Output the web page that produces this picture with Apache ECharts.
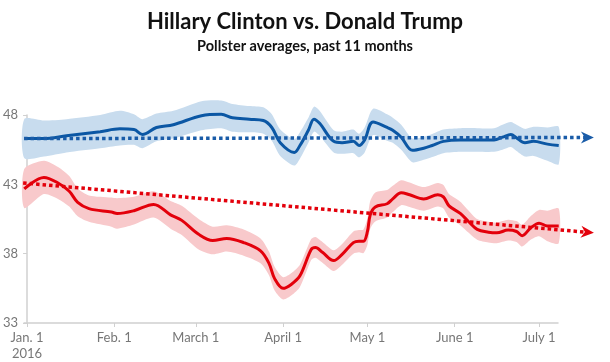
<!DOCTYPE html>
<html>
<head>
<meta charset="utf-8">
<script src="https://cdn.jsdelivr.net/npm/echarts@6/dist/echarts.min.js"></script>
<style>html,body{margin:0;padding:0;background:#fff}#c{width:610px;height:362px}</style>
</head>
<body>
<div id="c"></div>
<script>
// ---- data (days since Jan. 1, 2016) ----
var clintonDays = [-1,6,14,26,33,38,41,46,52,62,69,73,79,84,87,90,95,97,100,102,104,109,112,116,118,120,123,128,130,133,137,141,144,148,154,160,166,169,172,174,177,180,185,189];
var clintonAvg  = [46.3,46.3,46.5,46.8,47.0,46.95,46.6,47.1,47.3,47.95,48.05,47.8,47.7,47.6,47.1,46.0,45.3,45.8,46.9,47.7,47.4,46.1,46.0,46.1,45.8,46.2,47.5,47.1,46.9,46.4,45.45,45.6,45.8,46.1,46.2,46.2,46.2,46.4,46.6,46.35,46.0,46.1,45.9,45.8];
var clintonLow  = [44.9,45.0,45.3,45.6,45.8,45.85,45.6,46.1,46.3,46.9,47.05,46.8,46.75,46.65,46.15,45.05,44.35,44.85,46.0,46.8,46.5,45.3,45.2,45.25,44.95,45.3,46.55,46.15,46.0,45.5,44.6,44.77,44.97,45.25,45.35,45.35,45.35,45.5,45.7,45.4,45.0,45.05,44.7,44.45];
var clintonHigh = [47.7,47.6,47.7,48.0,48.3,48.05,47.7,48.1,48.3,49.0,49.05,48.8,48.65,48.55,48.05,46.95,46.25,46.75,47.8,48.6,48.3,46.9,46.8,46.95,46.65,47.1,48.45,48.05,47.8,47.3,46.3,46.43,46.63,46.95,47.05,47.05,47.05,47.3,47.5,47.3,47.0,47.15,47.1,47.15];

var trumpDays = [-1,6,11,15,18,22,30,32,38,45,51,55,61,66,71,77,83,86,88,91,94,97,101,102.5,105,109,112,116,118,119.6,121,122,123.8,128,130,133,136,141,146,148,150,154,157,160,164,167,171,174,176,179,182,185,189];
var trumpAvg  = [42.67,43.5,43.1,42.5,41.7,41.25,41.0,40.9,41.1,41.55,40.8,40.4,39.4,38.95,39.1,38.8,38.2,37.3,36.2,35.5,35.8,36.4,38.3,38.45,38.1,37.5,37.95,38.8,38.9,38.9,39.6,40.8,41.37,41.6,41.95,42.4,42.25,41.95,42.25,42.1,41.45,40.9,40.3,39.75,39.55,39.5,39.7,39.6,39.3,39.85,40.2,40.0,40.0];
var trumpLow  = [41.3,42.3,41.95,41.4,40.7,40.3,39.95,39.8,40.1,40.6,39.8,39.35,38.3,37.95,38.15,37.85,37.3,36.45,35.35,34.7,35.0,35.6,37.55,37.7,37.35,36.75,37.2,38.0,38.1,38.05,38.65,39.8,40.32,40.6,41.0,41.5,41.37,41.1,41.4,41.25,40.6,40.05,39.5,39.0,38.8,38.75,38.95,38.85,38.52,39.0,39.25,38.9,38.75];
var trumpHigh = [44.1,44.7,44.25,43.6,42.7,42.2,42.05,42.0,42.1,42.5,41.8,41.45,40.5,39.95,40.05,39.75,39.1,38.15,37.05,36.3,36.6,37.2,39.05,39.2,38.85,38.25,38.7,39.6,39.7,39.75,40.55,41.8,42.42,42.6,42.9,43.3,43.13,42.8,43.1,42.95,42.3,41.75,41.1,40.5,40.3,40.25,40.45,40.35,40.08,40.7,41.15,41.1,41.25];

var clintonTrend = [[-1.06,46.3],[201.5,46.38]];
var trumpTrend   = [[-1.4,43.1],[201.5,39.5]];

var tickDays   = [0,31,60,91,121,152,182];
var tickLabels = ['Jan. 1\n2016','Feb. 1','March 1','April 1','May 1','June 1','July 1'];

function zip3(d,a,b){var r=[];for(var i=0;i<d.length;i++)r.push([d[i],a[i],b[i]]);return r;}
function zip2(d,a){var r=[];for(var i=0;i<d.length;i++)r.push([d[i],a[i]]);return r;}

function makeBand(rows,color){
  return {type:'custom',data:rows,clip:false,z:1,silent:true,
    encode:{x:0,y:[1,2]},
    renderItem:function(params,api){
      if(params.dataIndex!==0) return null;
      var up=[],dn=[];
      for(var i=0;i<rows.length;i++){
        up.push(api.coord([rows[i][0],rows[i][2]]));
        dn.push(api.coord([rows[i][0],rows[i][1]]));
      }
      return {type:'polygon',shape:{points:up.concat(dn.reverse()),smooth:0.25},style:{fill:color},silent:true};
    }};
}
function makeTrend(pts,color){
  return {type:'custom',data:pts,clip:false,z:4,silent:true,
    encode:{x:0,y:1},
    renderItem:function(params,api){
      if(params.dataIndex!==0) return null;
      var a=api.coord(pts[0]), b=api.coord(pts[1]);
      var dx=b[0]-a[0], dy=b[1]-a[1], L=Math.sqrt(dx*dx+dy*dy);
      var ux=dx/L, uy=dy/L, nx=-uy, ny=ux;
      var endLine=[b[0]-ux*7,b[1]-uy*7];
      var back=[b[0]-ux*13,b[1]-uy*13];
      var notch=[b[0]-ux*9,b[1]-uy*9];
      return {type:'group',children:[
        {type:'line',shape:{x1:a[0],y1:a[1],x2:endLine[0],y2:endLine[1]},
          style:{stroke:color,lineWidth:3.5,lineDash:[3.5,3],lineCap:'butt',fill:null}},
        {type:'polygon',shape:{points:[[b[0],b[1]],[back[0]+nx*6,back[1]+ny*6],notch,[back[0]-nx*6,back[1]-ny*6]]},
          style:{fill:color}}
      ]};
    }};
}

var FONT='Lato';
var chart = echarts.init(document.getElementById('c'),null,{renderer:'canvas'});
chart.setOption({
  animation:false,
  title:{
    text:'Hillary Clinton vs. Donald Trump',
    subtext:'Pollster averages, past 11 months',
    left:'center', top:6, itemGap:6,
    textStyle:{fontFamily:FONT,fontSize:22,fontWeight:'bold',color:'#111'},
    subtextStyle:{fontFamily:FONT,fontSize:14.5,fontWeight:'bold',color:'#111'}
  },
  grid:{left:23,right:52,top:115,bottom:35},
  xAxis:{
    type:'value',min:-1.06,max:188.74,
    splitLine:{show:false},
    axisLine:{lineStyle:{color:'#d0d0d0',width:1.5}},
    axisTick:{show:true,customValues:tickDays,length:4,lineStyle:{color:'#d0d0d0'}},
    axisLabel:{customValues:tickDays,color:'#777',fontFamily:FONT,fontSize:13,margin:7,lineHeight:16,
      formatter:function(v){var i=tickDays.indexOf(v);return i>=0?tickLabels[i]:'';}}
  },
  yAxis:{
    type:'value',min:33,max:48,interval:5,
    splitLine:{show:false},
    axisLine:{show:true,lineStyle:{color:'#d0d0d0',width:1.5}},
    axisTick:{show:true,length:4,lineStyle:{color:'#d0d0d0'}},
    axisLabel:{color:'#777',fontFamily:FONT,fontSize:13,margin:6}
  },
  series:[
    makeBand(zip3(clintonDays,clintonLow,clintonHigh),'#c8dcee'),
    makeBand(zip3(trumpDays,trumpLow,trumpHigh),'#f8c9cb'),
    {type:'line',data:zip2(clintonDays,clintonAvg),smooth:0.35,showSymbol:false,clip:false,z:3,
      lineStyle:{color:'#0b57a4',width:3}},
    {type:'line',data:zip2(trumpDays,trumpAvg),smooth:0.35,showSymbol:false,clip:false,z:3,
      lineStyle:{color:'#e3000b',width:3}},
    makeTrend(clintonTrend,'#1a5ca8'),
    makeTrend(trumpTrend,'#e3000b')
  ]
});
</script>
</body>
</html>
